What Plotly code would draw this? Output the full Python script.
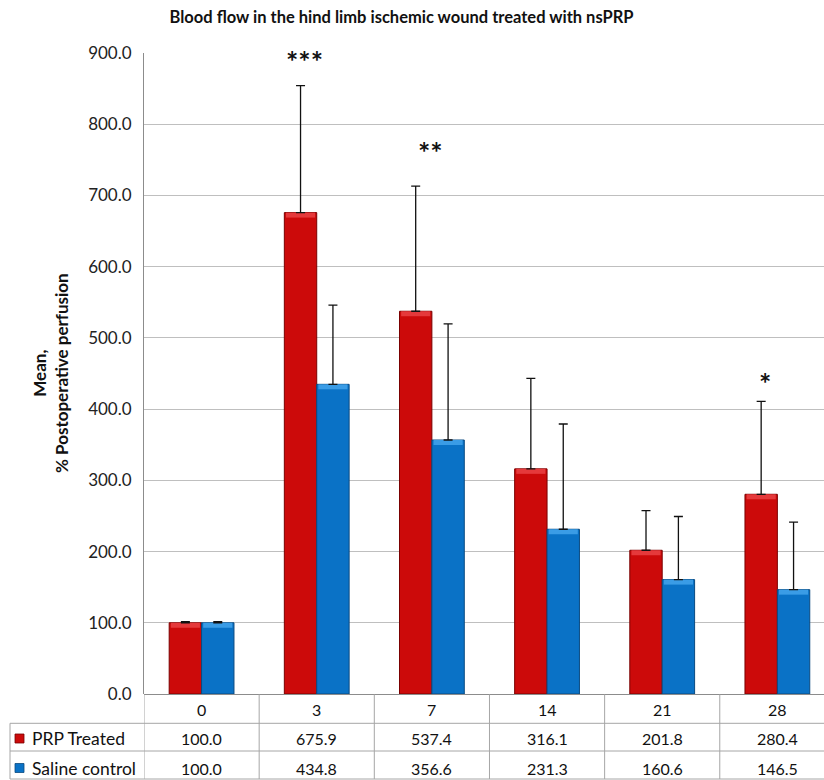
import plotly.graph_objects as go

# Time points (days) and group means
days = ["0", "3", "7", "14", "21", "28"]
prp_mean = [100.0, 675.9, 537.4, 316.1, 201.8, 280.4]
saline_mean = [100.0, 434.8, 356.6, 231.3, 160.6, 146.5]

# Upper error (SD) for each group
prp_err = [1.5, 178.4, 175.8, 127.0, 55.8, 130.5]
saline_err = [1.5, 111.2, 163.1, 147.8, 88.6, 94.7]

# Significance markers: (day index, height, label)
sig_idx = [1, 2, 5]
sig_y = [889.0, 762.0, 438.0]
sig_txt = ["***", "**", "*"]

series_names = ["PRP Treated", "Saline control"]
RED, RED_EDGE, RED_HI = "#CC0A0A", "#7A0000", "#E5393B"
BLUE, BLUE_EDGE, BLUE_HI = "#0A72C6", "#0A4A80", "#3A9CE6"
FONT = "Lato"

W, H = 824, 780
ML, MT, MB = 144, 53, 86
PW, PH = W - ML, H - MT - MB

BAR_W = 0.2813      # bar width in category units
BEVEL = 7.0         # height of the lighter top facet, in axis units


def py(pix):
    """Pixel row (from top) -> paper y."""
    return (H - MB - pix) / PH


def px(pix):
    """Pixel column -> paper x."""
    return (pix - ML) / PW


x = list(range(len(days)))
fig = go.Figure()
series = [
    (series_names[0], prp_mean, prp_err, RED, RED_EDGE, RED_HI, -BAR_W),
    (series_names[1], saline_mean, saline_err, BLUE, BLUE_EDGE, BLUE_HI, 0.0),
]
for name, vals, err, col, edge, hi, off in series:
    fig.add_trace(go.Bar(
        x=x, y=vals, name=name, width=BAR_W, offset=off,
        marker=dict(color=col, line=dict(color=edge, width=1)),
    ))
    # lighter bevel along the top of each bar
    fig.add_trace(go.Bar(
        x=x, y=[BEVEL] * len(vals), base=[v - BEVEL for v in vals],
        width=BAR_W * 0.9, offset=off + BAR_W * 0.05, hoverinfo="skip",
        marker=dict(color=hi, line=dict(width=0)), showlegend=False,
    ))
    # upper error bars drawn last so they sit on top
    fig.add_trace(go.Bar(
        x=x, y=vals, width=BAR_W, offset=off, hoverinfo="skip", showlegend=False,
        marker=dict(color="rgba(0,0,0,0)", line=dict(width=0)),
        error_y=dict(type="data", symmetric=False, array=err,
                     arrayminus=[0] * len(err), color="#111111",
                     thickness=1.3, width=4.5),
    ))

# Asterisks above the significant PRP bars
offs = {1: -0.105, 2: -0.01, 5: -0.11}
for i, yv, t in zip(sig_idx, sig_y, sig_txt):
    fig.add_annotation(x=i + offs[i], y=yv, xref="x", yref="y", text=f"<b>{t}</b>",
                       showarrow=False, font=dict(family=FONT, size=29, color="#111"),
                       xanchor="center", yanchor="middle")

# Data table beneath the axis
grid = "#A6A6A6"
row_tops = [694.4, 723.3, 751.0, 779.0]
shapes = []
for k in range(len(days) + 1):
    shapes.append(dict(type="line", xref="x", yref="paper", x0=k - 0.5, x1=k - 0.5,
                       y0=py(row_tops[0]), y1=py(row_tops[3]),
                       line=dict(color=grid, width=1)))
for r in row_tops[1:]:
    shapes.append(dict(type="line", xref="paper", yref="paper", x0=px(10), x1=1,
                       y0=py(r), y1=py(r), line=dict(color=grid, width=1)))
shapes.append(dict(type="line", xref="paper", yref="paper", x0=px(10), x1=px(10),
                   y0=py(row_tops[1]), y1=py(row_tops[3]), line=dict(color=grid, width=1)))

row_mid = [709.0, 738.5, 768.0]
nfont = dict(family=FONT, size=16, color="#111")
lfont = dict(family=FONT, size=17.5, color="#111")
for i, d in enumerate(days):
    for r, txt in [(0, d), (1, f"{prp_mean[i]:.1f}"), (2, f"{saline_mean[i]:.1f}")]:
        fig.add_annotation(x=i, y=py(row_mid[r]), xref="x", yref="paper", text=txt,
                           showarrow=False, font=nfont,
                           xanchor="center", yanchor="middle")

# Legend keys inside the table
for r, name, col, edge in [(1, series_names[0], RED, RED_EDGE), (2, series_names[1], BLUE, BLUE_EDGE)]:
    c = row_mid[r]
    shapes.append(dict(type="rect", xref="paper", yref="paper", x0=px(15), x1=px(24),
                       y0=py(c + 4.5), y1=py(c - 4.5), fillcolor=col,
                       line=dict(color=edge, width=0.8)))
    fig.add_annotation(x=px(30), y=py(c), xref="paper", yref="paper", text=name,
                       showarrow=False, xanchor="left", yanchor="middle", font=lfont)

# Axis title
fig.add_annotation(x=px(50), y=py(373), xref="paper", yref="paper",
                   text="<b>Mean,<br>% Postoperative perfusion</b>", textangle=-90,
                   showarrow=False, xanchor="center", yanchor="middle",
                   font=dict(family=FONT, size=17, color="#111"))

fig.update_layout(
    width=W, height=H,
    margin=dict(l=ML, r=0, t=MT, b=MB, pad=0),
    paper_bgcolor="white", plot_bgcolor="white",
    barmode="overlay",
    showlegend=False,
    shapes=shapes,
    title=dict(text="<b>Blood flow in the hind limb ischemic wound treated with nsPRP</b>",
               x=401.5 / W, xanchor="center", y=1 - 17 / H, yanchor="middle",
               font=dict(family=FONT, size=16.5, color="#111")),
    xaxis=dict(range=[-0.5, 5.405], showticklabels=False, ticks="",
               showgrid=False, zeroline=False, showline=False),
    yaxis=dict(range=[0, 900], dtick=100, tickformat=".1f",
               showgrid=True, gridcolor="#BFBFBF", gridwidth=1.3,
               zeroline=True, zerolinecolor="#8C8C8C", zerolinewidth=1,
               showline=True, linecolor="#8C8C8C", linewidth=1,
               ticks="", ticklabelstandoff=8,
               tickfont=dict(family=FONT, size=17, color="#222")),
)

fig.write_html("out.html")
